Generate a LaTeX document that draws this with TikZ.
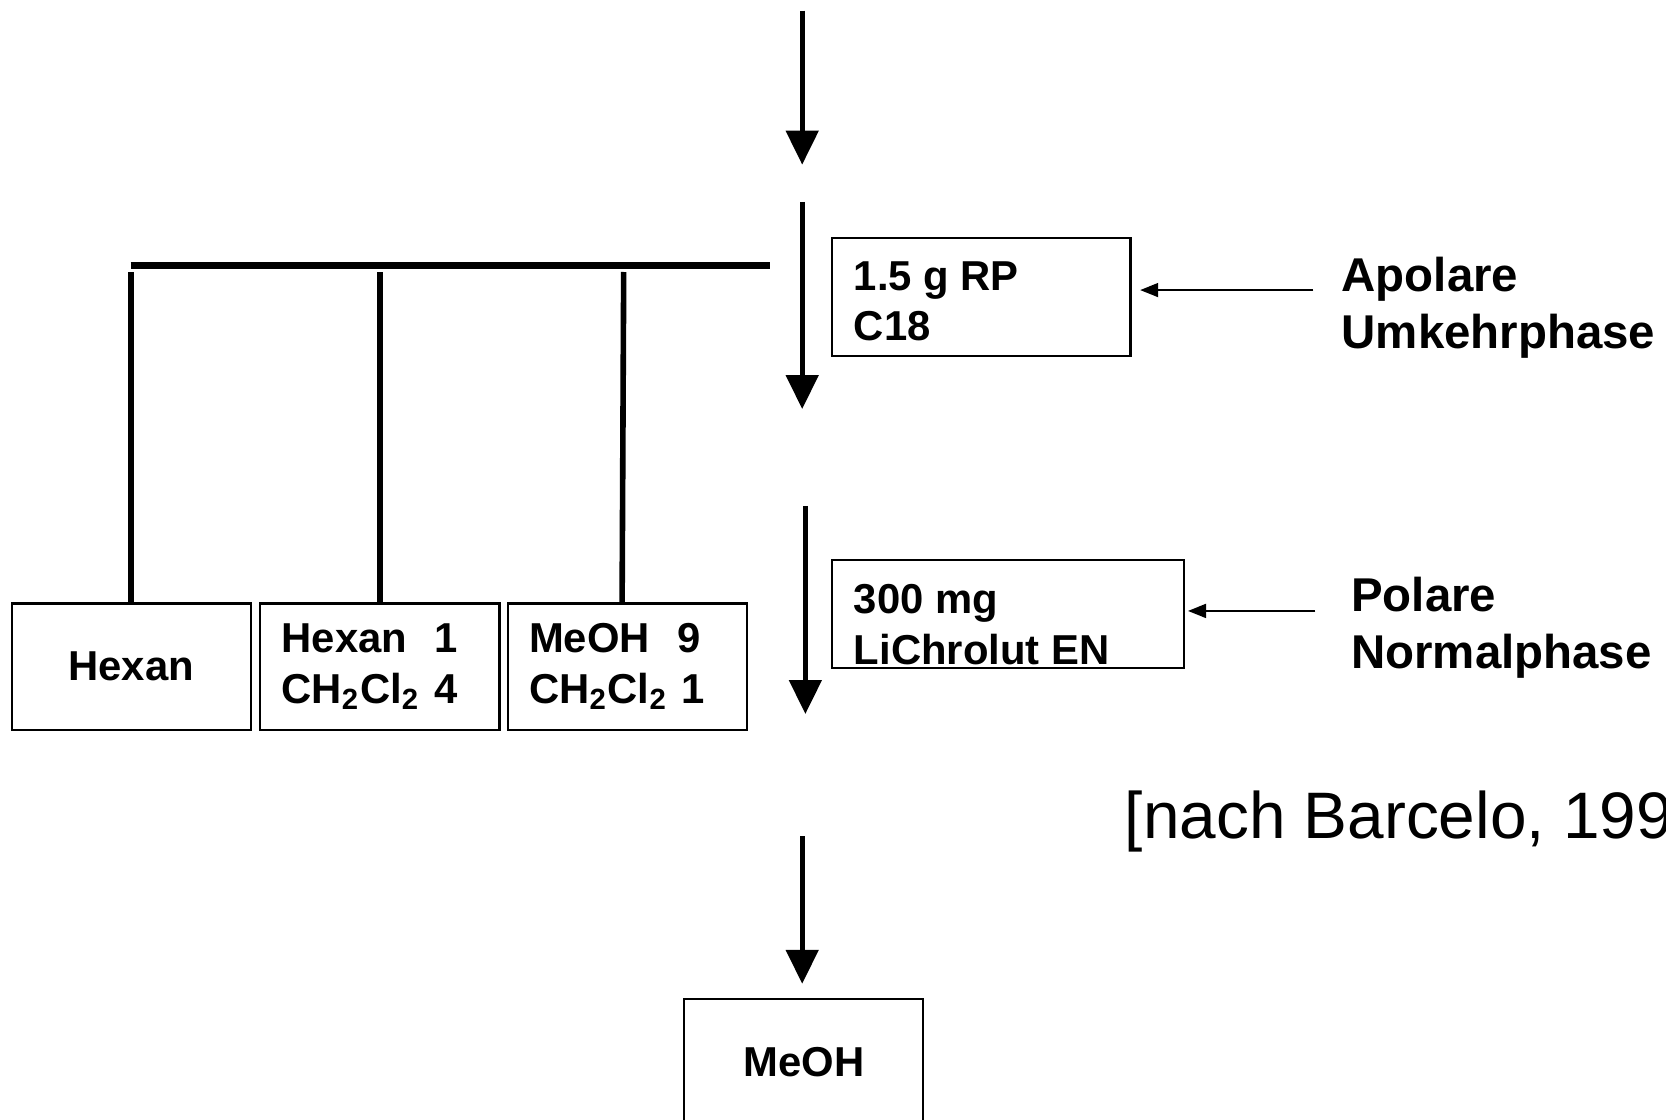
\documentclass[tikz,border=0pt]{standalone}
\usepackage{fontspec}
\setmainfont{Liberation Sans}
\usetikzlibrary{arrows.meta,positioning}

\begin{document}
\begin{tikzpicture}[
    boxtxt/.style={font=\fontsize{11.2}{13.6}\selectfont\bfseries},
    solvent/.style={rectangle, draw, line width=0.6pt, minimum width=2.25cm, minimum height=1.19cm, boxtxt},
    phase/.style={rectangle, draw, line width=0.6pt},
    phasetxt/.style={anchor=west, inner sep=0pt, align=left, boxtxt},
    flow/.style={-{Triangle[length=0.32cm, width=0.3cm]}, line width=1.4pt},
    feed/.style={-{Triangle[length=0.17cm, width=0.13cm]}, line width=0.6pt},
    sidelabel/.style={anchor=west, inner sep=0pt, align=left, font=\fontsize{12.7}{15.2}\selectfont\bfseries}
  ]
    \useasboundingbox (0,0) rectangle (15.68,-10.54);

    % Kartuschen
    \node[phase, minimum width=2.81cm, minimum height=1.11cm] (rp) at (9.235,-2.795) {};
    \node[phasetxt] (rptxt) at ([xshift=0.21cm, yshift=-0.04cm]rp.west) {1.5 g RP\\C18};
    \node[phase, minimum width=3.31cm, minimum height=1.02cm] (en) at (9.485,-5.78) {};
    \node[phasetxt] (entxt) at ([xshift=0.21cm, yshift=-0.10cm]en.west) {300 mg\\LiChrolut EN};

    % Elutionsmittel
    \node[solvent] (hex) at (1.235,-6.275) {Hexan};
    \node[solvent, align=left, text width=1.85cm, inner xsep=0.2cm] (mix1) at (3.575,-6.275)
          {Hexan~~1\\CH\textsubscript{2}Cl\textsubscript{2} 4};
    \node[solvent, align=left, text width=1.85cm, inner xsep=0.2cm] (mix2) at (5.905,-6.275)
          {MeOH~~9\\CH\textsubscript{2}Cl\textsubscript{2} 1};
    \node[solvent] (meoh) at (7.565,-9.995) {MeOH};

    % Phasen
    \node[sidelabel] (apol) at (12.62,-2.895) {Apolare\\Umkehrphase};
    \node[sidelabel] (pol) at (12.71,-5.91) {Polare\\Normalphase};
    \node[anchor=west, inner sep=0pt, font=\fontsize{17.6}{20}\selectfont] (ref) at (10.58,-7.73) {[nach Barcelo, 1999]};

    % Fliessrichtung
    \coordinate (f0a) at (7.55,-0.10);
    \coordinate (f0b) at (7.55,-1.55);
    \coordinate (f1a) at (7.55,-1.90);
    \coordinate (f1b) at (7.55,-3.85);
    \coordinate (f2a) at (7.58,-4.76);
    \coordinate (f2b) at (7.58,-6.72);
    \coordinate (f3a) at (7.55,-7.87);
    \draw[flow] (f0a) -- (f0b);
    \draw[flow] (f1a) -- (f1b);
    \draw[flow] (f2a) -- (f2b);
    \draw[flow, shorten >=0.13cm] (f3a) -- (f3a |- meoh.north);

    % Verteiler
    \coordinate (barl) at (1.23,-2.50);
    \coordinate (barr) at (7.25,-2.50);
    \coordinate (barv) at (0,-2.56);
    \coordinate (v3) at (5.87,-2.56);
    \draw[line width=2pt] (barl) -- (barr);
    \draw[line width=1.5pt] (hex.north |- barv) -- (hex.north);
    \draw[line width=1.5pt] (mix1.north |- barv) -- (mix1.north);
    \draw[line width=1.5pt] (v3) -- ([xshift=-0.05cm]mix2.north);

    % Zuordnung
    \coordinate (apin) at (12.36,-2.73);
    \coordinate (polin) at (12.38,-5.75);
    \draw[feed, shorten >=0.08cm] (apin) -- (apin -| rp.east);
    \draw[feed, shorten >=0.03cm] (polin) -- (polin -| en.east);
\end{tikzpicture}
\end{document}
